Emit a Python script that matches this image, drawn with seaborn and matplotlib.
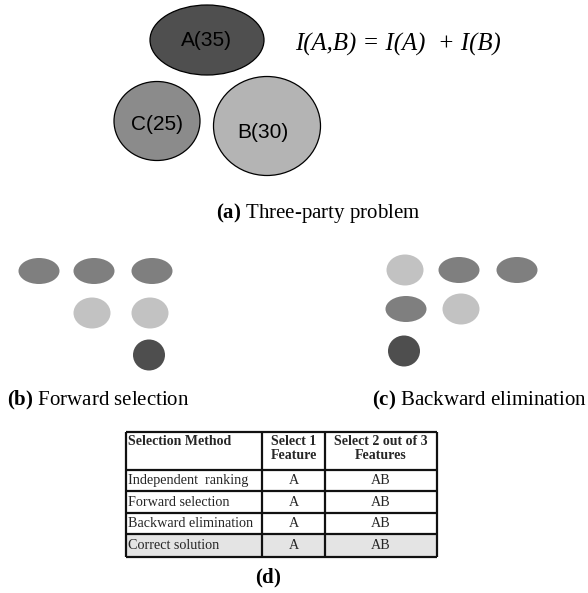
import matplotlib
matplotlib.use("Agg")
import matplotlib.pyplot as plt
from matplotlib.patches import Ellipse, Rectangle
import seaborn as sns

# ---- data -------------------------------------------------------------
features = ["A", "B", "C"]
information = [35, 30, 25]          # individual information of each feature
equation = "I(A,B) = I(A)  + I(B)"

# feature chosen at each step (rows) for the two greedy searches
forward_rows = [["C", "C", "C"], ["B", "B"], ["A"]]
backward_rows = [["B", "C", "C"], ["C", "B"], ["A"]]

methods = ["Independent  ranking", "Forward selection",
           "Backward elimination", "Correct solution"]
select_one = ["A", "A", "A", "A"]
select_two = ["AB", "AB", "AB", "AB"]
table_header = ["Selection Method", "Select 1\nFeature", "Select 2 out of 3\nFeatures"]

# ---- styling ----------------------------------------------------------
sns.set_theme(style="white")
plt.rcParams["font.family"] = ["Liberation Serif", "DejaVu Serif"]
plt.rcParams["mathtext.fontset"] = "custom"
plt.rcParams["mathtext.rm"] = "Liberation Serif"
plt.rcParams["mathtext.bf"] = "Liberation Serif:bold"

big_fill = {"A": "#4f4f4f", "B": "#b4b4b4", "C": "#8b8b8b"}
dot_fill = {"A": "#4e4e4e", "B": "#c2c2c2", "C": "#7f7f7f"}

fig = plt.figure(figsize=(5.88, 5.93), dpi=100)
ax = fig.add_axes([0, 0, 1, 1])
ax.set_xlim(0, 588)
ax.set_ylim(593, 0)
ax.set_axis_off()

# ---- (a) three-party problem -----------------------------------------
big_layout = {"A": ((207, 40), 114, 70),
              "C": ((157, 121), 86, 79),
              "B": ((267, 126), 107, 99)}
label_offset = {"A": (-1, 0), "C": (0, 3), "B": (-4, 6)}
for f, v in zip(features, information):
    (cx, cy), w, h = big_layout[f]
    ax.add_patch(Ellipse((cx, cy), w, h, facecolor=big_fill[f],
                         edgecolor="black", lw=0.9))
    dx, dy = label_offset[f]
    ax.text(cx + dx, cy + dy, f"{f}({v})", ha="center", va="center",
            fontsize=15, family="Liberation Sans", color="black")

ax.text(398, 44, equation, ha="center", va="center", fontsize=17.8,
        style="italic", color="black")


def caption(x, y, tag, text):
    ax.text(x, y, rf"$\mathbf{{({tag})}}$ {text}" if text else rf"$\mathbf{{({tag})}}$",
            ha="center", va="center", fontsize=15, color="black")


caption(318, 213, "a", "Three-party problem")

# ---- (b) / (c) selection steps ---------------------------------------
dot_shape = {"A": (32, 31), "B": (37, 31), "C": (41, 26)}


def draw_steps(rows, xs, ys):
    for r, row in enumerate(rows):
        for c, f in enumerate(row):
            w, h = dot_shape[f]
            ax.add_patch(Ellipse((xs[r][c], ys[r]), w, h,
                                 facecolor=dot_fill[f], edgecolor="none"))


draw_steps(forward_rows, [[39, 94, 152], [92, 150], [149]], [271, 313, 355])
draw_steps(backward_rows, [[405, 459, 517], [406, 461], [404]], [270, 309, 351])

caption(98, 400, "b", "Forward selection")
caption(480, 400, "c", "Backward elimination")

# ---- (d) summary table -----------------------------------------------
x_edges = [126, 262, 325, 437]
y_edges = [432, 470, 491, 513, 534, 557]

ax.add_patch(Rectangle((x_edges[0], y_edges[-2]), x_edges[-1] - x_edges[0],
                       y_edges[-1] - y_edges[-2], facecolor="#e4e4e4",
                       edgecolor="none"))
ax.hlines(y_edges, x_edges[0], x_edges[-1], colors="#111111", lw=1.6)
ax.vlines(x_edges, y_edges[0], y_edges[-1], colors="#111111", lw=1.6)

ax.text(x_edges[0] + 2, y_edges[0] + 3, table_header[0], ha="left", va="top",
        fontsize=10, weight="bold")
for i in (1, 2):
    ax.text((x_edges[i] + x_edges[i + 1]) / 2, y_edges[0] + 3, table_header[i],
            ha="center", va="top", fontsize=10, weight="bold", linespacing=1.1)

for r, (m, s1, s2) in enumerate(zip(methods, select_one, select_two)):
    yc = (y_edges[r + 1] + y_edges[r + 2]) / 2
    ax.text(x_edges[0] + 2, yc, m, ha="left", va="center", fontsize=10.2)
    ax.text((x_edges[1] + x_edges[2]) / 2, yc, s1, ha="center", va="center", fontsize=10.2)
    ax.text((x_edges[2] + x_edges[3]) / 2, yc, s2, ha="center", va="center", fontsize=10.2)

caption(268, 578, "d", "")

fig.savefig("out.png", dpi=100)
